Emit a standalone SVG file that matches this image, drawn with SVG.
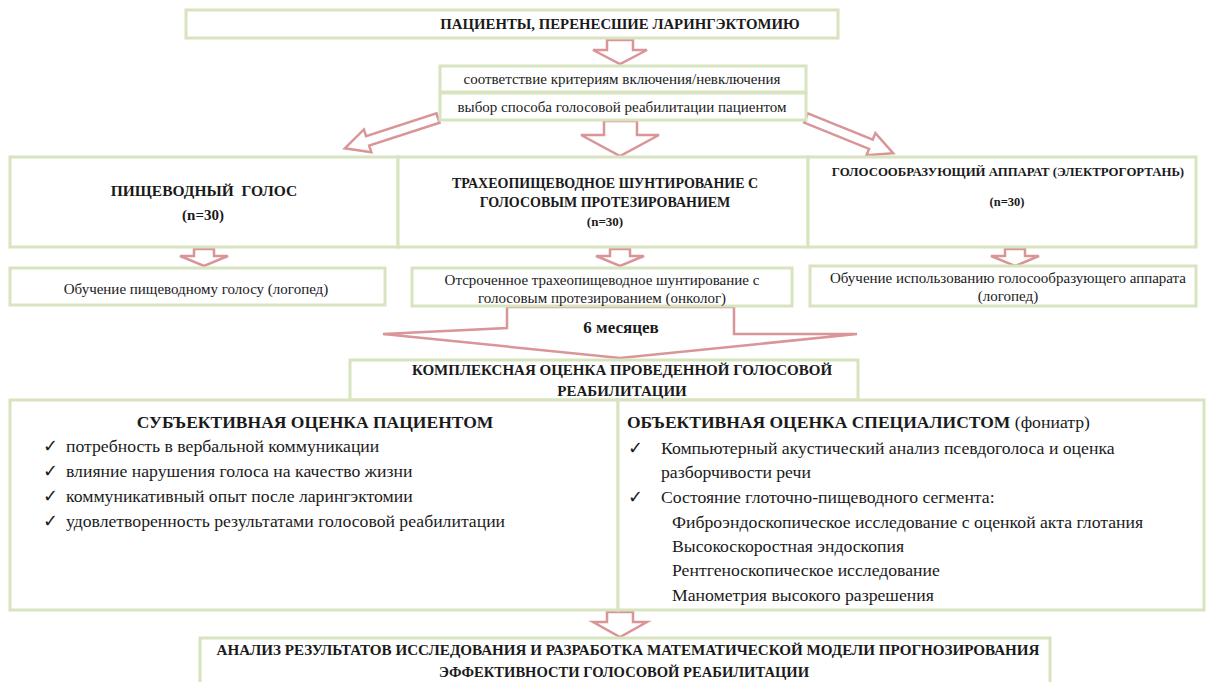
<svg xmlns="http://www.w3.org/2000/svg" width="1206" height="682" viewBox="0 0 1206 682">
<style>
.box{fill:#fff;stroke:#d8e4c0;stroke-width:3}
.arr{fill:#fff;stroke:#d99597;stroke-width:2.5;stroke-linejoin:miter}
text{fill:#1a1a1a;font-family:"Liberation Serif","Times New Roman",serif}
.b{font-weight:bold}
.c{text-anchor:middle}
.s{font-size:15px}
.l{font-size:17.7px}
</style>
<rect width="1206" height="682" fill="#fff"/>
<g id="connectors">
<polygon class="arr" points="607,40 633,40 633,50 647,50 620,64 593,50 607,50"/>
<polygon class="arr" transform="translate(438,118) rotate(162)" points="0,-5 74,-5 74,-12 98,0 74,12 74,5 0,5"/>
<polygon class="arr" points="604,121 637,121 637,135 659,135 620,156 581,135 604,135"/>
<polygon class="arr" transform="translate(806,118) rotate(22)" points="0,-5 70,-5 70,-12 94,0 70,12 70,5 0,5"/>
<polygon class="arr" points="194,249 214,249 214,256 228,256 204,266 180,256 194,256"/>
<polygon class="arr" points="610,249 630,249 630,256 644,256 620,266 596,256 610,256"/>
<polygon class="arr" points="1005,249 1025,249 1025,256 1039,256 1015,266 991,256 1005,256"/>
<polygon class="arr" points="507,307 734,307 734,334 857,334 620,358 383,334 507,328"/>
<polygon class="arr" points="607,612 633,612 633,622 647,622 620,637 593,622 607,622"/>
</g>
<g id="n1"><rect class="box" x="186" y="10" width="652" height="28"/>
<text class="b c" x="620" y="29" font-size="14.8">ПАЦИЕНТЫ, ПЕРЕНЕСШИЕ ЛАРИНГЭКТОМИЮ</text></g>
<g id="n2"><rect class="box" x="440" y="66" width="366" height="26"/>
<text class="c s" x="622" y="84">соответствие критериям включения/невключения</text></g>
<g id="n3"><rect class="box" x="440" y="93" width="366" height="27"/>
<text class="c s" x="622" y="112">выбор способа голосовой реабилитации пациентом</text></g>
<g id="n4"><rect class="box" x="10" y="157" width="388" height="90"/>
<text class="b c" x="204" y="196" font-size="15.5" xml:space="preserve">ПИЩЕВОДНЫЙ  ГОЛОС</text>
<text class="b c s" x="203" y="220">(n=30)</text></g>
<g id="n5"><rect class="box" x="398" y="157" width="410" height="90"/>
<text class="b c" x="605" y="188" font-size="14">ТРАХЕОПИЩЕВОДНОЕ ШУНТИРОВАНИЕ С</text>
<text class="b c" x="605" y="207" font-size="14">ГОЛОСОВЫМ ПРОТЕЗИРОВАНИЕМ</text>
<text class="b c" x="605" y="226" font-size="13">(n=30)</text></g>
<g id="n6"><rect class="box" x="808" y="157" width="388" height="90"/>
<text class="b c" x="1008" y="176" font-size="12.8">ГОЛОСООБРАЗУЮЩИЙ АППАРАТ (ЭЛЕКТРОГОРТАНЬ)</text>
<text class="b c" x="1007" y="206" font-size="12.5">(n=30)</text></g>
<g id="n7"><rect class="box" x="10" y="268" width="375" height="37"/>
<text class="c s" x="196" y="294">Обучение пищеводному голосу (логопед)</text></g>
<g id="n8"><rect class="box" x="412" y="268" width="380" height="38"/>
<text class="c s" x="602" y="285">Отсроченное трахеопищеводное шунтирование с</text>
<text class="c s" x="602" y="303">голосовым протезированием (онколог)</text></g>
<g id="n9"><rect class="box" x="810" y="266" width="386" height="40"/>
<text class="c s" x="1008" y="283">Обучение использованию голосообразующего аппарата</text>
<text class="c s" x="1008" y="301">(логопед)</text></g>
<text class="b c" x="621" y="333" font-size="17">6 месяцев</text>
<g id="n10"><rect class="box" x="350" y="360" width="508" height="40"/>
<text class="b c s" x="622" y="375">КОМПЛЕКСНАЯ ОЦЕНКА ПРОВЕДЕННОЙ ГОЛОСОВОЙ</text>
<text class="b c s" x="622" y="396">РЕАБИЛИТАЦИИ</text></g>
<g id="n11"><rect class="box" x="10" y="400" width="608" height="210"/>
<text class="b c" x="315" y="428" font-size="17.5">СУБЪЕКТИВНАЯ ОЦЕНКА ПАЦИЕНТОМ</text>
<text class="l" x="43" y="452">✓</text><text class="l" x="66" y="452">потребность в вербальной коммуникации</text>
<text class="l" x="43" y="477">✓</text><text class="l" x="66" y="477">влияние нарушения голоса на качество жизни</text>
<text class="l" x="43" y="502">✓</text><text class="l" x="66" y="502">коммуникативный опыт после ларингэктомии</text>
<text class="l" x="43" y="527">✓</text><text class="l" x="66" y="527">удовлетворенность результатами голосовой реабилитации</text></g>
<g id="n12"><rect class="box" x="618" y="400" width="586" height="210"/>
<text class="l" x="627" y="428"><tspan class="b" font-size="17.5">ОБЪЕКТИВНАЯ ОЦЕНКА СПЕЦИАЛИСТОМ</tspan> (фониатр)</text>
<text class="l" x="628" y="454">✓</text>
<text class="l" x="661" y="454">Компьютерный акустический анализ псевдоголоса и оценка</text>
<text class="l" x="661" y="478">разборчивости речи</text>
<text class="l" x="628" y="503">✓</text>
<text class="l" x="661" y="503">Состояние глоточно-пищеводного сегмента:</text>
<text class="l" x="672" y="528">Фиброэндоскопическое исследование с оценкой акта глотания</text>
<text class="l" x="672" y="552">Высокоскоростная эндоскопия</text>
<text class="l" x="672" y="576">Рентгеноскопическое исследование</text>
<text class="l" x="672" y="601">Манометрия высокого разрешения</text></g>
<g id="n13"><rect class="box" x="200" y="638" width="850" height="50"/>
<text class="b c" x="628" y="655" font-size="15" textLength="823" lengthAdjust="spacingAndGlyphs">АНАЛИЗ РЕЗУЛЬТАТОВ ИССЛЕДОВАНИЯ И РАЗРАБОТКА МАТЕМАТИЧЕСКОЙ МОДЕЛИ ПРОГНОЗИРОВАНИЯ</text>
<text class="b c" x="624" y="677" font-size="15" textLength="370" lengthAdjust="spacingAndGlyphs">ЭФФЕКТИВНОСТИ ГОЛОСОВОЙ РЕАБИЛИТАЦИИ</text></g>
</svg>
